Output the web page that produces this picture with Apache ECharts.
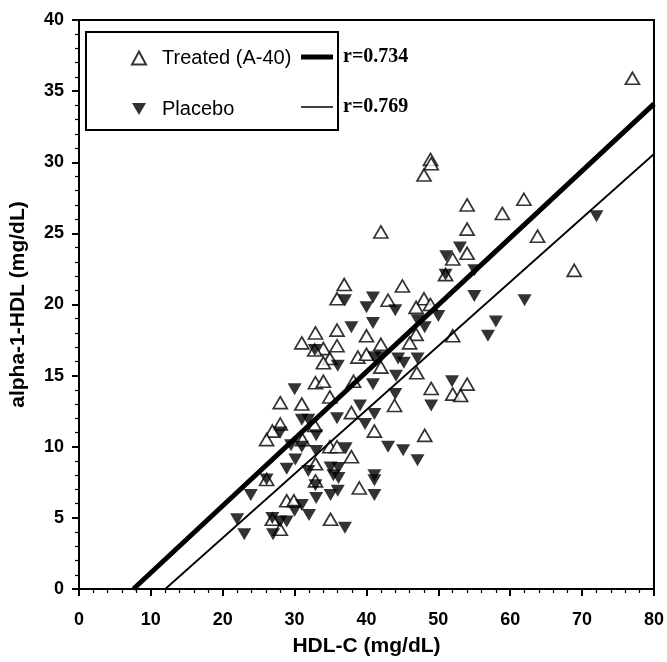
<!DOCTYPE html>
<html>
<head>
<meta charset="utf-8">
<script src="https://cdn.jsdelivr.net/npm/echarts@6/dist/echarts.min.js"></script>
<style>html,body{margin:0;padding:0;background:#fff}#c{width:667px;height:662px}</style>
</head>
<body>
<div id="c"></div>
<script>
// ---- data ----
var xTicks = [0, 10, 20, 30, 40, 50, 60, 70, 80];
var yTicks = [0, 5, 10, 15, 20, 25, 30, 35, 40];
var treated = [
  [77.0,35.9],[48.9,30.2],[49.0,29.9],[48.0,29.1],[61.9,27.4],[54.0,27.0],[58.9,26.4],
  [42.0,25.1],[54.0,25.3],[63.8,24.8],[54.0,23.6],[52.0,23.2],[68.9,22.4],[36.9,21.4],
  [45.0,21.3],[35.9,20.4],[43.0,20.3],[48.0,20.4],[46.9,19.8],[48.9,20.0],[32.9,18.0],
  [35.9,18.2],[40.0,17.8],[52.0,17.8],[46.9,17.9],[42.0,17.2],[35.9,17.1],[46.0,17.3],
  [31.0,17.3],[34.0,16.9],[34.9,16.2],[34.0,15.9],[38.8,16.3],[40.0,16.5],[42.0,15.6],
  [47.0,15.2],[32.9,14.5],[34.0,14.6],[38.2,14.6],[49.0,14.1],[54.0,14.4],[52.0,13.7],
  [53.1,13.6],[34.9,13.5],[43.9,12.9],[28.0,13.1],[31.0,13.0],[37.9,12.4],[28.0,11.6],
  [26.9,11.1],[26.1,10.5],[31.1,10.5],[32.8,11.5],[34.9,10.0],[35.9,10.0],[37.9,9.3],
  [32.9,8.8],[32.9,7.6],[39.0,7.1],[28.9,6.2],[29.9,6.2],[35.0,4.9],[26.9,4.9],
  [28.0,4.2],[41.1,11.1],[48.1,10.8],[51.0,22.1],[32.8,16.8],[26.1,7.7]
];
var placebo = [
  [72.0,26.2],[53.0,24.0],[51.1,23.4],[51.0,22.1],[55.0,22.4],[55.0,20.6],[62.0,20.3],
  [37.0,20.3],[40.9,20.5],[40.0,19.8],[44.0,19.6],[50.0,19.2],[58.0,18.8],[56.9,17.8],
  [37.9,18.4],[40.9,18.7],[48.1,18.4],[47.1,18.9],[32.8,16.8],[36.0,15.7],[41.1,16.3],
  [42.0,16.3],[44.4,16.2],[45.2,15.9],[47.1,16.2],[44.1,15.0],[40.9,14.4],[51.9,14.6],
  [49.0,12.9],[44.0,13.7],[39.1,12.9],[41.1,12.3],[39.8,11.6],[35.9,12.0],[31.9,11.9],
  [31.0,11.9],[30.0,14.05],[28.0,11.0],[33.0,10.8],[29.5,10.1],[31.0,10.0],[37.1,9.9],
  [33.0,9.7],[30.1,9.1],[28.9,8.45],[31.9,8.3],[35.0,8.55],[36.1,8.5],[35.4,8.0],
  [36.1,7.8],[26.1,7.7],[23.9,6.6],[32.9,7.3],[33.0,6.4],[35.0,6.6],[36.0,6.9],
  [31.0,5.9],[30.0,5.5],[32.0,5.2],[28.9,4.75],[28.0,4.75],[26.9,5.0],[27.0,3.85],
  [22.0,4.9],[23.0,3.85],[37.0,4.3],[43.0,10.0],[45.1,9.75],[47.1,9.05],[41.1,8.0],
  [41.1,7.65],[41.1,6.6]
];
var treatedFit = [[7.57,0],[80,34.1]];
var placeboFit = [[12.0,0],[80,30.58]];
var seriesNames = ['Treated (A-40)', 'Placebo'];
var rLabels = ['r=0.734', 'r=0.769'];
var xName = 'HDL-C (mg/dL)';
var yName = 'alpha-1-HDL (mg/dL)';

var chart = echarts.init(document.getElementById('c'), null, {renderer: 'canvas'});
var SANS = 'Liberation Sans, Arial, Helvetica, sans-serif';
var SERIF = 'Liberation Serif, Times New Roman, serif';
var DOWN_TRI = 'path://M0,0 L14,0 L7,12 Z';

function axisCommon(ticks) {
  return {
    min: ticks[0], max: ticks[ticks.length - 1], interval: ticks[1] - ticks[0],
    axisLine: {show: true, onZero: false, lineStyle: {color: '#000', width: 2}},
    axisTick: {show: true, inside: false, length: 7, lineStyle: {color: '#000', width: 2}},
    minorTick: {show: true, splitNumber: 5, length: 4, lineStyle: {color: '#000', width: 1.2}},
    splitLine: {show: false},
    axisLabel: {color: '#000', fontFamily: SANS, fontWeight: 'bold', fontSize: 18},
    nameTextStyle: {color: '#000', fontFamily: SANS, fontWeight: 'bold', fontSize: 21}
  };
}
var xAxis = axisCommon(xTicks);
xAxis.type = 'value';
xAxis.name = xName;
xAxis.nameLocation = 'middle';
xAxis.nameGap = 47;
xAxis.axisLabel.margin = 22;
var yAxis = axisCommon(yTicks);
yAxis.type = 'value';
yAxis.name = yName;
yAxis.nameLocation = 'middle';
yAxis.nameGap = 50;
yAxis.axisLabel.margin = 15;

chart.setOption({
  animation: false,
  backgroundColor: '#fff',
  grid: {left: 76, right: 13, top: 20, bottom: 69, show: true, borderColor: '#000', borderWidth: 2, backgroundColor: 'transparent'},
  xAxis: xAxis,
  yAxis: yAxis,
  legend: {
    data: [
      {name: seriesNames[0], icon: 'triangle'},
      {name: seriesNames[1], icon: DOWN_TRI}
    ],
    orient: 'vertical',
    left: 126, top: 43,
    itemWidth: 14, itemHeight: 13,
    itemGap: 31,
    selectedMode: false,
    textStyle: {color: '#000', fontFamily: SANS, fontSize: 20, padding: [0, 0, 0, 11]}
  },
  series: [
    {
      name: seriesNames[0], type: 'scatter', data: treated,
      symbol: 'triangle', symbolSize: [14, 12],
      itemStyle: {color: '#fff', borderColor: '#000', borderWidth: 1.7},
      z: 3
    },
    {
      name: seriesNames[1], type: 'scatter', data: placebo,
      symbol: 'triangle', symbolRotate: 180, symbolSize: [14, 12],
      itemStyle: {color: '#000', borderColor: '#000', borderWidth: 0},
      z: 3
    },
    {
      type: 'line', data: treatedFit, symbol: 'none', silent: true,
      lineStyle: {color: '#000', width: 5}, z: 4
    },
    {
      type: 'line', data: placeboFit, symbol: 'none', silent: true,
      lineStyle: {color: '#000', width: 1.8}, z: 4
    }
  ],
  graphic: [
    {type: 'rect', shape: {x: 86, y: 32, width: 252, height: 98},
      style: {fill: 'none', stroke: '#000', lineWidth: 2}, z: 10},
    {type: 'line', shape: {x1: 301, y1: 57, x2: 333, y2: 57},
      style: {stroke: '#000', lineWidth: 5}, z: 10},
    {type: 'line', shape: {x1: 301, y1: 107, x2: 333, y2: 107},
      style: {stroke: '#000', lineWidth: 1.5}, z: 10},
    {type: 'text', x: 343, y: 57,
      style: {text: rLabels[0], fill: '#000', font: 'bold 20px ' + SERIF, verticalAlign: 'middle'}, z: 10},
    {type: 'text', x: 343, y: 107,
      style: {text: rLabels[1], fill: '#000', font: 'bold 20px ' + SERIF, verticalAlign: 'middle'}, z: 10}
  ]
});
</script>
</body>
</html>
